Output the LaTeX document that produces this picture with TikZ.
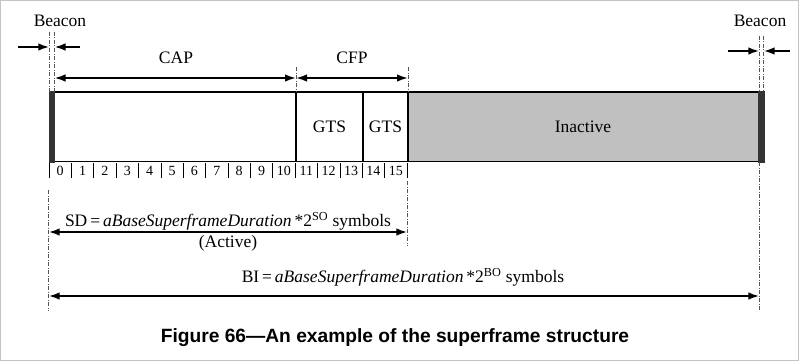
\documentclass[tikz,border=0pt]{standalone}
\usepackage{fontspec}
\setmainfont{Liberation Serif}
\newfontfamily\capfont{Liberation Sans}
\usetikzlibrary{arrows.meta}
\definecolor{framegray}{HTML}{C4C4C4}
\definecolor{inactgray}{HTML}{C0C0C0}
\definecolor{barcol}{HTML}{333333}
\definecolor{dashcol}{HTML}{555555}
\tikzset{
  lbl/.style={inner sep=0pt, font=\fontsize{17.5}{20}\selectfont},
  num/.style={inner sep=0pt, font=\fontsize{14}{16}\selectfont},
  guide/.style={draw=dashcol, line width=0.8pt, dash pattern=on 4pt off 1.5pt on 1pt off 1.5pt},
  dimarrow/.style={line width=1.8pt, -{Latex[length=11pt,width=7.5pt]}},
  dimboth/.style={line width=1.8pt, {Latex[length=11pt,width=7.5pt]}-{Latex[length=11pt,width=7.5pt]}},
  boxline/.style={line width=1.7pt},
  tick/.style={line width=0.6pt}
}
\begin{document}
\begin{tikzpicture}[x=1pt,y=-1pt]
\useasboundingbox (0,0) rectangle (799,361);
\draw[framegray, line width=1pt] (0.5,0.5) rectangle (798.5,360.5);

% main frame
\fill[inactgray] (408,92) rectangle (758,161.5);
\fill[barcol] (49,91) rectangle (55,162.5);
\fill[barcol] (758,91) rectangle (764.5,162.5);
\draw[boxline] (55,92) -- (758,92);
\draw[boxline] (55,161.5) -- (758,161.5);
\draw[boxline] (296,92) -- (296,161.5);
\draw[boxline] (363,92) -- (363,161.5);
\draw[boxline] (408,92) -- (408,161.5);

\node[lbl] (gts1) at (329.5,127) {GTS};
\node[lbl] (gts2) at (385.5,127) {GTS};
\node[lbl] (inact) at (583,127) {Inactive};

% slot ticks and numbers
\foreach \i in {0,...,16}{
  \draw[tick] ({49+22.375*\i},163) -- ({49+22.375*\i},178);
}
\foreach \i in {0,...,15}{
  \node[num] (n\i) at ({60.2+22.375*\i},171) {\i};
}

% guide lines
\draw[guide] (49.3,32) -- (49.3,92);
\draw[guide] (54.5,32) -- (54.5,92);
\draw[guide] (759.3,36) -- (759.3,92);
\draw[guide] (763.6,36) -- (763.6,92);
\draw[guide] (296,67) -- (296,92);
\draw[guide] (408,67) -- (408,92);
\draw[guide] (48.7,190) -- (48.7,311);
\draw[guide] (407.3,181) -- (407.3,246);
\draw[guide] (759.3,162) -- (759.3,311);

% coordinates
\coordinate (bl1) at (18,47);
\coordinate (bl2) at (49.3,47);
\coordinate (bl3) at (80,47);
\coordinate (bl4) at (54.5,47);
\coordinate (br1) at (728,51);
\coordinate (br2) at (759.3,51);
\coordinate (br3) at (790,51);
\coordinate (br4) at (763.6,51);
\coordinate (capL) at (54.5,78);
\coordinate (capR) at (296,78);
\coordinate (cfpR) at (408,78);
\coordinate (sdL) at (48.7,232);
\coordinate (sdR) at (407.3,232);
\coordinate (biL) at (48.7,296);
\coordinate (biR) at (759.3,296);

\draw[dimarrow] (bl1) -- (bl2);
\draw[dimarrow] (bl3) -- (bl4);
\draw[dimarrow] (br1) -- (br2);
\draw[dimarrow] (br3) -- (br4);
\draw[dimboth] (capL) -- (capR);
\draw[dimboth] (capR) -- (cfpR);
\draw[dimboth] (sdL) -- (sdR);
\draw[dimboth] (biL) -- (biR);

% labels
\node[lbl] (beaconL) at (60,21) {Beacon};
\node[lbl] (beaconR) at (760,21) {Beacon};
\node[lbl] (cap) at (176,58) {CAP};
\node[lbl] (cfp) at (352,58) {CFP};
\node[lbl] (sd) at (228,221) {SD\,=\,\textit{aBaseSuperframeDuration}\,*2\textsuperscript{SO} symbols};
\node[lbl] (active) at (228,243) {(Active)};
\node[lbl] (bi) at (403,277) {BI\,=\,\textit{aBaseSuperframeDuration}\,*2\textsuperscript{BO} symbols};

\node[inner sep=0pt, font=\capfont\bfseries\fontsize{19.2}{22}\selectfont] (caption) at (395,338) {Figure 66—An example of the superframe structure};
\end{tikzpicture}
\end{document}
